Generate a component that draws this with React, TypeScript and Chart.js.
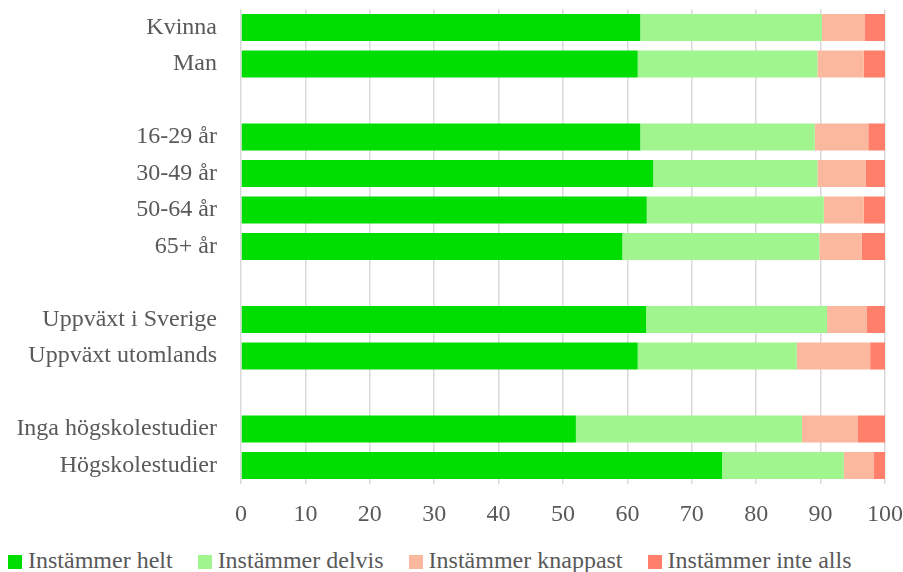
import React, { useEffect, useRef } from "react";
import { Chart, registerables } from "chart.js";

Chart.register(...registerables);

const categories = [
  "Kvinna",
  "Man",
  "",
  "16-29 år",
  "30-49 år",
  "50-64 år",
  "65+ år",
  "",
  "Uppväxt i Sverige",
  "Uppväxt utomlands",
  "",
  "Inga högskolestudier",
  "Högskolestudier",
];

const helt = [62.0, 61.6, null, 62.0, 64.0, 63.0, 59.2, null, 62.9, 61.6, null, 52.0, 74.7];
const delvis = [28.2, 27.9, null, 27.1, 25.5, 27.5, 30.6, null, 28.1, 24.7, null, 35.1, 18.9];
const knappast = [6.7, 7.2, null, 8.3, 7.5, 6.2, 6.6, null, 6.2, 11.4, null, 8.7, 4.7];
const inteAlls = [3.1, 3.3, null, 2.6, 3.0, 3.3, 3.6, null, 2.8, 2.3, null, 4.2, 1.7];

const seriesNames = ["Instämmer helt", "Instämmer delvis", "Instämmer knappast", "Instämmer inte alls"];
const seriesColors = ["#00DD00", "#A0F58F", "#FBB89E", "#FF7F6B"];
const xTicks = [0, 10, 20, 30, 40, 50, 60, 70, 80, 90, 100];

const FONT = '"Liberation Serif", "Times New Roman", serif';
const TEXT = "#595959";

export default function App() {
  const ref = useRef<HTMLCanvasElement | null>(null);

  useEffect(() => {
    if (!ref.current) return;
    const seriesData = [helt, delvis, knappast, inteAlls];
    const chart = new Chart(ref.current, {
      type: "bar",
      data: {
        labels: categories,
        datasets: seriesNames.map((name, i) => ({
          label: name,
          data: seriesData[i] as any,
          backgroundColor: seriesColors[i],
          borderWidth: 0,
          barPercentage: 0.74,
          categoryPercentage: 1,
        })),
      },
      options: {
        indexAxis: "y",
        responsive: false,
        animation: false,
        layout: { padding: { top: 9.25, right: 18, left: 0, bottom: 0 } },
        plugins: {
          legend: { display: false },
          tooltip: { enabled: false },
        },
        scales: {
          x: {
            stacked: true,
            min: 0,
            max: 100,
            afterBuildTicks: (scale: any) => {
              scale.ticks = xTicks.map((v) => ({ value: v }));
            },
            afterFit: (scale: any) => {
              scale.height = 56.25;
              scale.paddingLeft = 0;
              scale.paddingRight = 0;
            },
            grid: {
              color: "#D9D9D9",
              lineWidth: 1.5,
              drawTicks: false,
            },
            border: { display: false },
            ticks: {
              color: TEXT,
              font: { family: FONT, size: 24 },
              padding: 17,
              maxRotation: 0,
            },
          },
          y: {
            stacked: true,
            afterFit: (scale: any) => {
              scale.width = 241;
              scale.paddingTop = 0;
              scale.paddingBottom = 0;
            },
            grid: { display: false, drawTicks: false },
            border: { display: false },
            ticks: {
              color: TEXT,
              font: { family: FONT, size: 24 },
              padding: 24,
              autoSkip: false,
            },
          },
        },
      },
    });
    return () => chart.destroy();
  }, []);

  return (
    <div
      style={{
        position: "absolute",
        left: 0,
        top: 0,
        width: 903,
        height: 572,
        background: "#fff",
        overflow: "hidden",
      }}
    >
      <canvas ref={ref} width={903} height={540} style={{ display: "block" }} />
      <div
        style={{
          position: "absolute",
          left: 8,
          top: 547,
          height: 26,
          display: "flex",
          alignItems: "center",
          fontFamily: FONT,
          fontSize: 24,
          lineHeight: "26px",
          color: TEXT,
          whiteSpace: "nowrap",
        }}
      >
        {seriesNames.map((name, i) => (
          <div key={name} style={{ display: "flex", alignItems: "center", marginRight: 25 }}>
            <span
              style={{
                display: "inline-block",
                width: 14,
                height: 14,
                marginTop: 4,
                marginRight: 6,
                background: seriesColors[i],
              }}
            />
            <span>{name}</span>
          </div>
        ))}
      </div>
    </div>
  );
}
